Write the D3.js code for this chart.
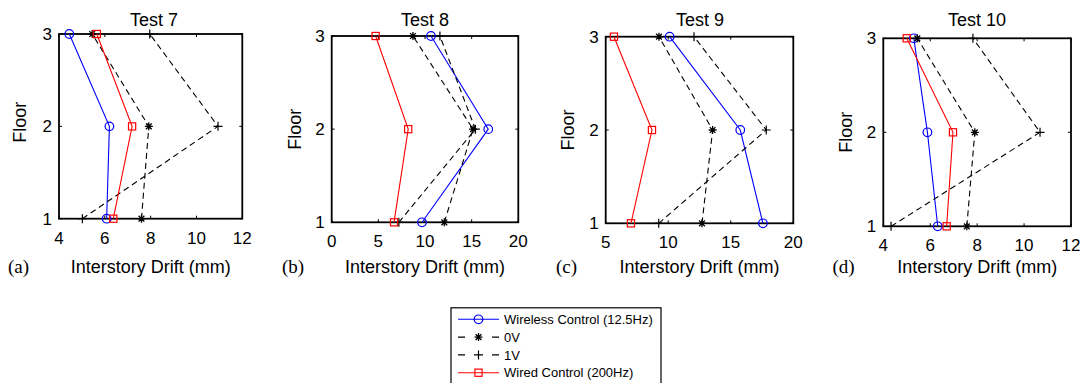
<!DOCTYPE html>
<html>
<head>
<meta charset="utf-8">
<script src="https://cdn.jsdelivr.net/npm/d3@7/dist/d3.min.js"></script>
<style>
  html, body { margin: 0; padding: 0; background: #fff; }
  svg { display: block; }
  text { fill: #000; }
</style>
</head>
<body>
<svg id="chart" width="1085" height="383"></svg>
<script>
// ---------------- DATA ----------------
const testTitles = ["Test 7", "Test 8", "Test 9", "Test 10"];
const panelLetters = ["(a)", "(b)", "(c)", "(d)"];
const floors = [1, 2, 3];
const floorTicks = [1, 2, 3];
const xDomains = [[4, 12], [0, 20], [5, 20], [4, 12]];
const xTickValues = [[4, 6, 8, 10, 12], [0, 5, 10, 15, 20], [5, 10, 15, 20], [4, 6, 8, 10, 12]];

// values per test, ordered by floor [1, 2, 3]
const wireless = [[6.08, 6.20, 4.45], [9.68, 16.78, 10.64], [17.57, 15.76, 10.11], [6.32, 5.88, 5.30]];
const zeroV    = [[7.60, 7.92, 5.45], [12.07, 15.15, 8.71], [12.70, 13.55, 9.26], [7.56, 7.90, 5.45]];
const oneV     = [[5.02, 10.94, 7.96], [7.20, 15.40, 11.60], [9.24, 17.84, 12.06], [4.33, 10.68, 7.82]];
const wired    = [[6.37, 7.19, 5.65], [6.68, 8.20, 4.71], [7.02, 8.70, 5.66], [6.70, 6.97, 5.00]];

const seriesNames = ["Wireless Control (12.5Hz)", "0V", "1V", "Wired Control (200Hz)"];

// ---------------- STYLE / LAYOUT ----------------
const SANS = "'Liberation Sans', Arial, Helvetica, sans-serif";
const SERIF = "'Liberation Serif', 'Times New Roman', serif";
const seriesStyles = [
  { color: "#0000ff", dash: null, marker: "circle" },
  { color: "#000000", dash: "6,4", marker: "star" },
  { color: "#000000", dash: "6,4", marker: "plus" },
  { color: "#ff0000", dash: null, marker: "square" }
];
const seriesData = [wireless, zeroV, oneV, wired];

const panels = [
  { left: 59,    right: 242.3, top: 34,   bottom: 218.7, titleX: 154, floorX: 19,  floorDy: -4, letterX: 8 },
  { left: 331.7, right: 518.3, top: 36,   bottom: 222.3, titleX: 425, floorX: 294, floorDy: 0,  letterX: 282 },
  { left: 605.7, right: 793.3, top: 36.7, bottom: 223.3, titleX: 700, floorX: 567.5, floorDy: 0, letterX: 556 },
  { left: 883.3, right: 1071,  top: 38.3, bottom: 226.3, titleX: 977, floorX: 845.5, floorDy: 0, letterX: 832.5 }
];

const svg = d3.select("#chart");

function txt(g, family) {
  return g.append("text").style("font-family", family || SANS);
}

function drawMarker(g, type, x, y, color) {
  if (type === "circle") {
    g.append("circle").attr("cx", x).attr("cy", y).attr("r", 4.3)
      .attr("fill", "none").attr("stroke", color).attr("stroke-width", 1.2);
  } else if (type === "square") {
    const s = 3.6;
    g.append("rect").attr("x", x - s).attr("y", y - s).attr("width", 2 * s).attr("height", 2 * s)
      .attr("fill", "none").attr("stroke", color).attr("stroke-width", 1.2);
  } else if (type === "plus") {
    const s = 4.5;
    g.append("path").attr("d", `M${x - s},${y}H${x + s}M${x},${y - s}V${y + s}`)
      .attr("stroke", color).attr("stroke-width", 1.2).attr("fill", "none");
  } else if (type === "star") {
    const s = 4, d = s * 0.72;
    g.append("path").attr("d",
      `M${x - s},${y}H${x + s}M${x},${y - s}V${y + s}M${x - d},${y - d}L${x + d},${y + d}M${x - d},${y + d}L${x + d},${y - d}`)
      .attr("stroke", color).attr("stroke-width", 1.3).attr("fill", "none");
  }
}

panels.forEach((p, i) => {
  const x = d3.scaleLinear().domain(xDomains[i]).range([p.left, p.right]);
  const y = d3.scaleLinear().domain([1, 3]).range([p.bottom, p.top]);
  const g = svg.append("g");

  // axes box
  g.append("rect").attr("x", p.left).attr("y", p.top)
    .attr("width", p.right - p.left).attr("height", p.bottom - p.top)
    .attr("fill", "none").attr("stroke", "#000").attr("stroke-width", 1.8);

  // ticks inside (all four sides)
  const tl = 3;
  xTickValues[i].forEach(v => {
    const xx = x(v);
    g.append("line").attr("x1", xx).attr("x2", xx).attr("y1", p.bottom).attr("y2", p.bottom - tl)
      .attr("stroke", "#000").attr("stroke-width", 1);
    g.append("line").attr("x1", xx).attr("x2", xx).attr("y1", p.top).attr("y2", p.top + tl)
      .attr("stroke", "#000").attr("stroke-width", 1);
    txt(g).attr("x", xx).attr("y", p.bottom + 25)
      .attr("text-anchor", "middle").attr("font-size", 17).text(v);
  });
  floorTicks.forEach(v => {
    const yy = y(v);
    g.append("line").attr("x1", p.left).attr("x2", p.left + tl).attr("y1", yy).attr("y2", yy)
      .attr("stroke", "#000").attr("stroke-width", 1);
    g.append("line").attr("x1", p.right).attr("x2", p.right - tl).attr("y1", yy).attr("y2", yy)
      .attr("stroke", "#000").attr("stroke-width", 1);
    txt(g).attr("x", p.left - 7).attr("y", yy).attr("dy", "0.36em")
      .attr("text-anchor", "end").attr("font-size", 17).text(v);
  });

  // title
  txt(g).attr("x", p.titleX).attr("y", 26).attr("text-anchor", "middle")
    .attr("font-size", 18).text(testTitles[i]);

  // y label
  const fy = (p.top + p.bottom) / 2 + p.floorDy;
  txt(g).attr("transform", `translate(${p.floorX + 6.5},${fy}) rotate(-90)`)
    .attr("text-anchor", "middle").attr("font-size", 18).text("Floor");

  // x label
  txt(g).attr("x", (p.left + p.right) / 2).attr("y", 273)
    .attr("text-anchor", "middle").attr("font-size", 18).text("Interstory Drift (mm)");

  // panel letter
  txt(g, SERIF).attr("x", p.letterX).attr("y", 273)
    .attr("font-size", 19).text(panelLetters[i]);

  // series
  const line = d3.line().x(d => x(d.v)).y(d => y(d.f));
  seriesData.forEach((sd, k) => {
    const st = seriesStyles[k];
    const pts = floors.map((f, j) => ({ f: f, v: sd[i][j] }));
    g.append("path").datum(pts).attr("d", line)
      .attr("fill", "none").attr("stroke", st.color).attr("stroke-width", 1.1)
      .attr("stroke-dasharray", st.dash);
    pts.forEach(d => drawMarker(g, st.marker, x(d.v), y(d.f), st.color));
  });
});

// ---------------- LEGEND ----------------
const lg = svg.append("g");
lg.append("rect").attr("x", 451).attr("y", 307.8).attr("width", 210).attr("height", 92)
  .attr("fill", "#fff").attr("stroke", "#000").attr("stroke-width", 1.2);
const rowY = d3.scaleLinear().domain([0, 3]).range([319.3, 372.7]);
seriesNames.forEach((name, k) => {
  const st = seriesStyles[k];
  const yy = rowY(k);
  lg.append("line").attr("x1", 458).attr("x2", 499).attr("y1", yy).attr("y2", yy)
    .attr("stroke", st.color).attr("stroke-width", 1.1)
    .attr("stroke-dasharray", st.dash ? "7,27" : null);
  drawMarker(lg, st.marker, 478.5, yy, st.color);
  txt(lg).attr("x", 504).attr("y", yy).attr("dy", "0.36em")
    .attr("font-size", 13).text(name);
});
</script>
</body>
</html>
